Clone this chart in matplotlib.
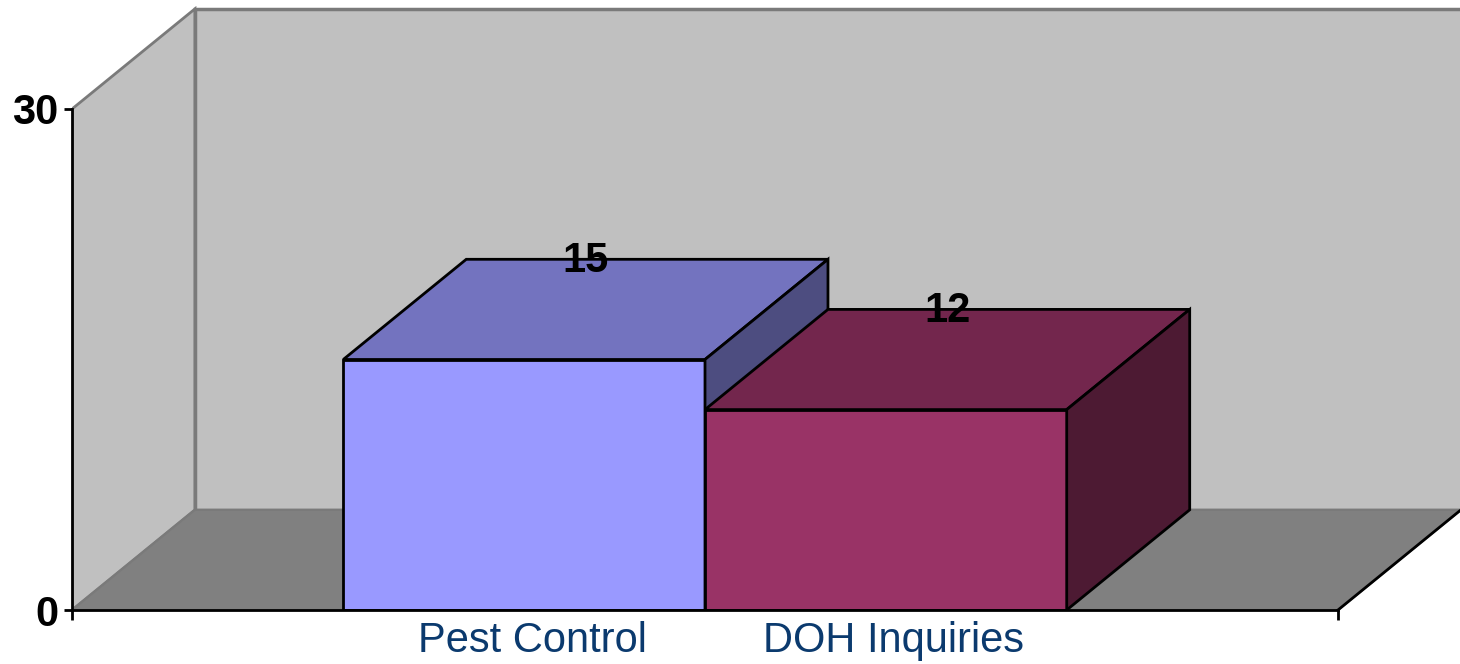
import matplotlib

matplotlib.use("Agg")
import matplotlib.pyplot as plt
from matplotlib.patches import Polygon
from matplotlib.transforms import ScaledTranslation

plt.rcParams["font.family"] = ["Liberation Sans", "DejaVu Sans"]

# data
categories = ["Pest Control", "DOH Inquiries"]
values = [15, 12]
y_ticks = [0, 30]

front_colors = ["#9999FF", "#993366"]
top_colors = ["#7373BF", "#73264D"]
side_colors = ["#4D4D80", "#4D1A33"]

# fake 3D geometry (data units)
bar_width = 1.0
first_left = 0.75
floor_right = 3.5
depth_x = 0.34
depth_y = 6.0
wall_top = 30

W, H = 1460, 664
fig = plt.figure(figsize=(W / 100, H / 100), dpi=100)
ax = fig.add_axes([72 / W, 54 / H, (W - 72) / W, 604 / H])
ax.set_xlim(0, (W - 72) / (1266 / floor_right))
ax.set_ylim(0, 604 / (501 / wall_top))

wall_edge = "#7A7A7A"
# left wall
ax.add_patch(Polygon([(0, 0), (0, wall_top), (depth_x, wall_top + depth_y), (depth_x, depth_y)],
                     closed=True, facecolor="#C0C0C0", edgecolor=wall_edge, lw=2, zorder=0))
# back wall
ax.add_patch(Polygon([(depth_x, depth_y), (floor_right + depth_x + 0.01, depth_y),
                      (floor_right + depth_x + 0.01, wall_top + depth_y), (depth_x, wall_top + depth_y)],
                     closed=True, facecolor="#C0C0C0", edgecolor=wall_edge, lw=2.5, zorder=0,
                     clip_on=False))
# floor
ax.add_patch(Polygon([(0, 0), (floor_right, 0), (floor_right + depth_x, depth_y), (depth_x, depth_y)],
                     closed=True, facecolor="#808080", edgecolor=wall_edge, lw=1.5, zorder=1))
ax.plot([floor_right, floor_right + depth_x], [0, depth_y], color="black", lw=2, zorder=2,
        clip_on=False)

lefts = [first_left + i * bar_width for i in range(len(values))]
centers = [l + bar_width / 2 for l in lefts]

for i, (left, v) in enumerate(zip(lefts, values)):
    z = 3 + i * 3
    ax.bar(left, v, width=bar_width, align="edge", color=front_colors[i],
           edgecolor="black", linewidth=2, zorder=z)
    top = [(left, v), (left + bar_width, v), (left + bar_width + depth_x, v + depth_y),
           (left + depth_x, v + depth_y)]
    ax.add_patch(Polygon(top, closed=True, facecolor=top_colors[i], edgecolor="black",
                         lw=2, zorder=z + 1))
    side = [(left + bar_width, 0), (left + bar_width + depth_x, depth_y),
            (left + bar_width + depth_x, v + depth_y), (left + bar_width, v)]
    ax.add_patch(Polygon(side, closed=True, facecolor=side_colors[i], edgecolor="black",
                         lw=2, zorder=z + 1))
    ax.text(left + bar_width / 2 + depth_x / 2, v + depth_y - 0.1, str(v), ha="center",
            va="center", fontsize=30, fontweight="bold", color="black", zorder=20)

# axes
for s in ["top", "right"]:
    ax.spines[s].set_visible(False)
ax.spines["left"].set_bounds(0, wall_top)
ax.spines["bottom"].set_bounds(0, floor_right)
for s in ["left", "bottom"]:
    ax.spines[s].set_linewidth(2)
    ax.spines[s].set_zorder(15)

ax.set_yticks(y_ticks)
ax.set_yticklabels([str(t) for t in y_ticks], fontsize=30, fontweight="bold")
ax.tick_params(axis="y", length=6, width=2, pad=4)

ax.set_xticks(centers)
ax.set_xticklabels(categories, fontsize=30, color="#0B3A6E")
ax.tick_params(axis="x", which="major", length=0, pad=8)
ax.set_xticks([0, floor_right], minor=True)
ax.tick_params(axis="x", which="minor", length=7, width=2)
shift = ScaledTranslation(8 / 100, 0, fig.dpi_scale_trans)
for lab in ax.get_xticklabels():
    lab.set_transform(lab.get_transform() + shift)

fig.savefig("out.png", dpi=100)
